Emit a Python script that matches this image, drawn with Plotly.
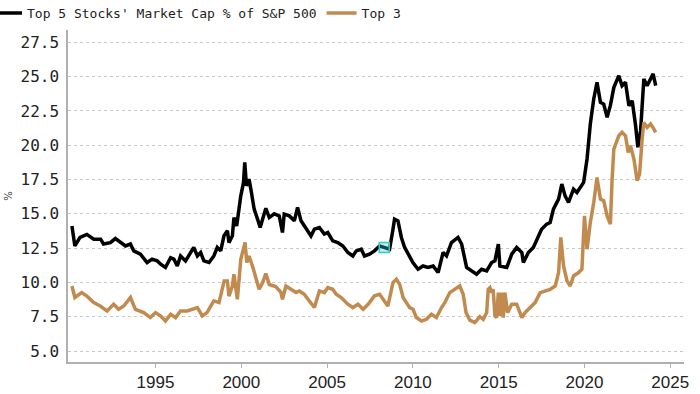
import plotly.graph_objects as go

top5_years = [1990.13, 1990.30, 1990.60, 1991.00, 1991.40, 1991.80, 1991.97, 1992.37, 1992.66, 1992.95,
              1993.25, 1993.54, 1993.73, 1994.12, 1994.51, 1994.80, 1995.10, 1995.30, 1995.58, 1995.88,
              1996.07, 1996.27, 1996.46, 1996.75, 1997.05, 1997.23, 1997.44, 1997.63, 1997.82, 1998.12,
              1998.40, 1998.60, 1998.80, 1998.99, 1999.19, 1999.28, 1999.48, 1999.57, 1999.73, 1999.97,
              2000.13, 2000.20, 2000.30, 2000.45, 2000.59, 2000.75, 2000.95, 2001.10, 2001.24, 2001.43,
              2001.63, 2001.92, 2002.21, 2002.40, 2002.50, 2002.80, 2003.09, 2003.28, 2003.48, 2003.87,
              2004.06, 2004.26, 2004.55, 2004.84, 2005.04, 2005.33, 2005.62, 2005.92, 2006.21, 2006.50,
              2006.70, 2006.99, 2007.18, 2007.47, 2007.76, 2008.06, 2008.35, 2008.64, 2008.84, 2008.93,
              2009.13, 2009.33, 2009.52, 2009.71, 2010.00, 2010.30, 2010.59, 2010.88, 2011.18, 2011.47,
              2011.76, 2011.96, 2012.25, 2012.63, 2012.84, 2013.13, 2013.42, 2013.71, 2014.00, 2014.30,
              2014.59, 2014.78, 2014.98, 2015.07, 2015.47, 2015.76, 2016.05, 2016.35, 2016.44, 2016.73,
              2017.02, 2017.32, 2017.50, 2017.80, 2018.00, 2018.19, 2018.49, 2018.68, 2018.87, 2019.07,
              2019.36, 2019.56, 2019.75, 2019.95, 2020.15, 2020.34, 2020.54, 2020.73, 2020.93, 2021.12,
              2021.32, 2021.51, 2021.71, 2022.00, 2022.19, 2022.39, 2022.59, 2022.78, 2022.98, 2023.11,
              2023.27, 2023.46, 2023.65, 2023.85, 2024.00, 2024.15]
top5_values = [14.12, 12.66, 13.28, 13.50, 13.15, 13.15, 12.80, 12.90, 13.20, 12.90,
               12.66, 12.80, 12.30, 12.06, 11.45, 11.70, 11.57, 11.33, 11.09, 11.80,
               11.70, 11.20, 11.93, 11.57, 12.18, 12.55, 11.93, 12.18, 11.57, 11.45,
               11.93, 12.55, 12.30, 13.40, 13.76, 12.90, 13.40, 14.73, 14.12, 16.31,
               17.29, 18.75, 17.04, 17.53, 16.56, 15.34, 14.60, 14.00, 14.60, 15.40,
               14.73, 15.00, 14.85, 13.64, 14.98, 14.85, 14.49, 15.47, 14.49, 13.76,
               13.39, 13.88, 14.00, 13.52, 13.64, 13.03, 12.90, 12.66, 12.18, 11.93,
               12.30, 12.42, 11.93, 12.06, 12.30, 12.66, 12.55, 12.42, 13.88, 14.61,
               14.49, 13.28, 12.55, 12.06, 11.45, 10.96, 11.20, 11.09, 11.20, 10.72,
               12.18, 11.93, 12.91, 13.28, 12.80, 11.09, 10.84, 10.60, 10.96, 10.84,
               11.45, 11.57, 12.79, 11.20, 11.09, 12.06, 12.55, 12.18, 11.45, 12.18,
               12.55, 13.39, 13.88, 14.25, 14.37, 15.34, 16.07, 17.17, 16.31, 15.83,
               16.80, 16.56, 16.90, 17.29, 19.00, 21.55, 23.37, 24.59, 23.13, 23.00,
               22.03, 22.90, 24.20, 25.07, 24.34, 24.59, 22.88, 23.25, 21.42, 19.85,
               21.06, 24.83, 24.34, 24.83, 25.20, 24.34]

top3_years = [1990.13, 1990.30, 1990.70, 1991.00, 1991.40, 1991.78, 1992.18, 1992.56, 1992.85, 1993.15,
              1993.54, 1993.83, 1994.31, 1994.70, 1995.00, 1995.29, 1995.58, 1995.88, 1996.17, 1996.46,
              1996.85, 1997.15, 1997.44, 1997.73, 1998.00, 1998.40, 1998.70, 1999.00, 1999.19, 1999.28,
              1999.48, 1999.57, 1999.77, 1999.97, 2000.13, 2000.22, 2000.32, 2000.45, 2000.65, 2000.85,
              2001.04, 2001.24, 2001.43, 2001.63, 2002.00, 2002.30, 2002.40, 2002.60, 2002.90, 2003.19,
              2003.38, 2003.67, 2003.96, 2004.26, 2004.55, 2004.84, 2005.04, 2005.33, 2005.53, 2005.82,
              2006.21, 2006.50, 2006.80, 2007.10, 2007.39, 2007.76, 2008.06, 2008.25, 2008.54, 2008.84,
              2009.04, 2009.23, 2009.43, 2009.62, 2009.81, 2010.01, 2010.20, 2010.50, 2010.79, 2011.08,
              2011.37, 2011.67, 2011.86, 2012.15, 2012.44, 2012.73, 2012.93, 2013.10, 2013.32, 2013.61,
              2013.90, 2014.10, 2014.30, 2014.39, 2014.49, 2014.59, 2014.68, 2014.78, 2014.88, 2014.98,
              2015.07, 2015.18, 2015.27, 2015.36, 2015.52, 2015.76, 2016.05, 2016.35, 2016.54, 2016.83,
              2017.12, 2017.42, 2017.71, 2018.00, 2018.30, 2018.49, 2018.62, 2018.78, 2018.98, 2019.17,
              2019.36, 2019.66, 2019.85, 2020.00, 2020.15, 2020.34, 2020.54, 2020.73, 2020.93, 2021.12,
              2021.32, 2021.51, 2021.61, 2021.71, 2022.00, 2022.19, 2022.39, 2022.55, 2022.68, 2022.88,
              2023.07, 2023.21, 2023.36, 2023.46, 2023.65, 2023.85, 2023.99, 2024.15]
top3_values = [9.74, 8.90, 9.26, 9.00, 8.53, 8.28, 7.92, 8.41, 8.04, 8.28,
               8.90, 8.04, 7.80, 7.44, 7.80, 7.56, 7.19, 7.68, 7.44, 7.92,
               7.92, 8.04, 8.16, 7.56, 7.80, 8.65, 8.53, 10.11, 10.11, 9.00,
               9.74, 10.60, 8.77, 11.69, 12.42, 12.91, 11.45, 11.93, 11.20, 10.23,
               9.50, 9.98, 10.65, 9.85, 9.70, 9.30, 8.77, 9.74, 9.50, 9.26,
               9.38, 9.14, 8.65, 8.17, 9.38, 9.26, 9.62, 9.50, 9.14, 8.90,
               8.41, 8.17, 8.41, 8.04, 8.41, 9.02, 9.14, 8.77, 8.28, 9.99,
               10.23, 9.86, 8.90, 8.53, 8.17, 8.04, 7.44, 7.19, 7.31, 7.68,
               7.44, 8.17, 8.53, 9.26, 9.50, 9.74, 9.14, 7.80, 7.25, 7.07,
               7.50, 7.31, 7.80, 9.50, 9.62, 9.26, 9.50, 7.56, 7.44, 9.26,
               7.56, 9.26, 7.44, 9.26, 7.80, 8.41, 8.41, 7.44, 7.80, 8.17,
               8.53, 9.26, 9.38, 9.50, 9.74, 10.72, 13.28, 11.20, 10.11, 9.74,
               10.47, 10.72, 10.96, 14.85, 12.42, 14.37, 15.83, 17.65, 16.07, 15.95,
               14.85, 14.25, 17.53, 19.72, 20.69, 20.94, 20.69, 19.48, 19.96, 19.00,
               17.41, 17.90, 20.45, 21.67, 21.30, 21.55, 21.30, 20.94]

highlight_year = [2008.33]
highlight_value = [12.55]

x_ticks = [1995, 2000, 2005, 2010, 2015, 2020, 2025]
y_ticks = [5.0, 7.5, 10.0, 12.5, 15.0, 17.5, 20.0, 22.5, 25.0, 27.5]

fig = go.Figure()
fig.add_trace(go.Scatter(x=top5_years, y=top5_values, mode="lines",
                         name="Top 5 Stocks' Market Cap % of S&P 500",
                         line=dict(color="#000000", width=3.5)))
fig.add_trace(go.Scatter(x=top3_years, y=top3_values, mode="lines", name="Top 3",
                         line=dict(color="#c18b4f", width=3.5)))
fig.add_trace(go.Scatter(x=highlight_year, y=highlight_value, mode="markers", showlegend=False,
                         marker=dict(symbol="square", size=10, color="rgba(64,210,210,0.35)",
                                     line=dict(color="#33cccc", width=1.5))))

fig.update_layout(
    width=700, height=394,
    margin=dict(l=68, r=16, t=30, b=32, autoexpand=False),
    paper_bgcolor="white", plot_bgcolor="white",
    showlegend=True,
    legend=dict(orientation="h", xref="paper", yref="paper", x=-0.1315, y=1.096,
                xanchor="left", yanchor="top", itemwidth=30,
                font=dict(family="DejaVu Sans Mono", size=13, color="#222222"),
                bgcolor="rgba(0,0,0,0)", borderwidth=0),
    xaxis=dict(range=[1989.9, 2025.8], tickvals=x_ticks, ticktext=[str(t) for t in x_ticks],
               showgrid=False, zeroline=False, showline=True, linecolor="#b0b0b0", linewidth=1.5,
               ticks="outside", ticklen=4, tickcolor="#b0b0b0", automargin=False,
               tickfont=dict(family="Liberation Sans", size=17, color="#222222"),
               ticklabelstandoff=0),
    yaxis=dict(range=[4.2, 28.4], tickvals=y_ticks, ticktext=[f"{v:.1f}" for v in y_ticks],
               showgrid=True, gridcolor="#c8c8c8", griddash="dot", gridwidth=1,
               zeroline=False, showline=True, linecolor="#b0b0b0", linewidth=1.5,
               ticks="", automargin=False,
               tickfont=dict(family="DejaVu Sans Mono", size=16, color="#222222"),
               ticklabelstandoff=4,
               title=dict(text="%", font=dict(family="DejaVu Sans", size=10, color="#333333"),
                          standoff=6)),
)

fig.write_html("out.html", config={"displayModeBar": False},
               post_script="document.body.style.margin='0px';")
